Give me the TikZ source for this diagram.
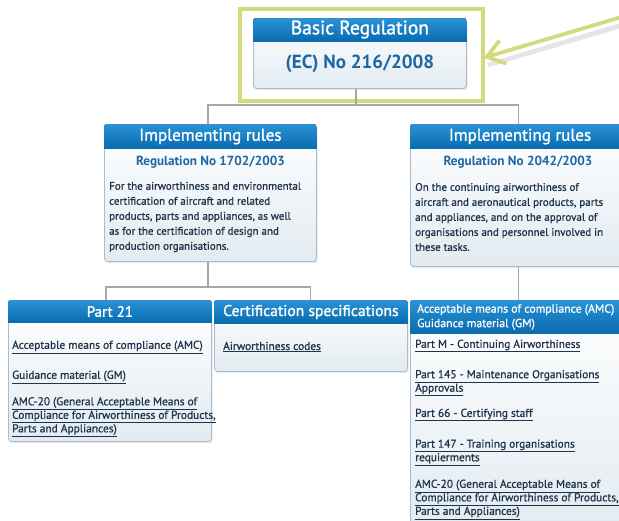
\documentclass[tikz,border=0pt]{standalone}
\usepackage{fontspec}
\setmainfont{PT Sans}
\newfontfamily\medf[FakeBold=1.0]{PT Sans}
\newfontfamily\semif[FakeBold=1.3]{PT Sans}
\usetikzlibrary{arrows.meta,shadows,calc}
\definecolor{hblue}{HTML}{2A93D6}
\definecolor{hblue2}{HTML}{0A6BB0}
\definecolor{bborder}{HTML}{A9BCCB}
\definecolor{bbot}{HTML}{E2EBF1}
\definecolor{subblue}{HTML}{1F66A3}
\definecolor{txt}{HTML}{1F344B}
\definecolor{hlgreen}{HTML}{D2DA7C}
\definecolor{connc}{HTML}{A6A6A6}
\newcommand\mkheader[2]{%
  \begin{scope}
    \clip[rounded corners=3pt] (#1.north west) rectangle (#1.south east);
    \fill[top color=hblue, bottom color=hblue2] (#1.north west) rectangle ([yshift=-#2]#1.north east);
  \end{scope}}
\newcommand\lnk[1]{\underline{#1}}
\begin{document}
\begin{tikzpicture}[x=1pt,y=-1pt,
  box/.style={draw=bborder, line width=0.8pt, rounded corners=3pt, top color=white,
    bottom color=bbot, anchor=north west, inner sep=0pt,
    drop shadow={opacity=0.18, shadow xshift=1.2pt, shadow yshift=-1.8pt}},
  htitle/.style={text=white, inner sep=0pt, font=\semif\fontsize{17}{19}\selectfont},
  hsmall/.style={text=white, inner sep=0pt, font=\semif\fontsize{15}{17}\selectfont},
  hlist/.style={text=white, inner sep=0pt, anchor=west, align=left, font=\medf\fontsize{11.8}{14.5}\selectfont},
  subt/.style={text=subblue, inner sep=0pt, font=\bfseries\fontsize{13.2}{15}\selectfont},
  body/.style={text=txt, inner sep=0pt, anchor=west, align=left, font=\medf\fontsize{11}{15}\selectfont},
  item/.style={text=txt, inner sep=0pt, anchor=west, align=left, font=\medf\fontsize{11.4}{13.5}\selectfont},
  conn/.style={draw=connc, line width=1.3pt},
  hl/.style={draw=hlgreen, line width=3.6pt, inner sep=0pt, anchor=north west},
  hlarrow/.style={draw=hlgreen, line width=3.8pt, -{Straight Barb[length=17pt, width=24pt, line width=3.6pt]}}]
\useasboundingbox (0,0) rectangle (619,520);
\clip (0,0) rectangle (619,520);
\fill[white] (0,0) rectangle (619,520);

% ---------- Basic regulation ----------
\node[hl, minimum width=243pt, minimum height=92pt] (hl) at (238,7) {};
\node[box, minimum width=213pt, minimum height=70pt] (br) at (253,18) {};
\mkheader{br}{23pt}
\node[htitle, font=\semif\fontsize{19.5}{21}\selectfont] (brt) at ($(br.north)+(0,11.5)$) {Basic Regulation};
\node[subt, font=\bfseries\fontsize{19}{21}\selectfont] (brs) at ($(br.north)+(0,46)$) {(EC) No 216/2008};

\coordinate (atail) at (625,16);
\fill[black, opacity=0.10] (624,22) -- (487,63) -- (489,67) -- (625,27) -- cycle;
\draw[hlarrow] (atail) -- ([xshift=-1pt,yshift=-3pt]hl.east);

% ---------- Implementing rules 1 ----------
\node[box, minimum width=212pt, minimum height=137pt] (ir1) at (104,124) {};
\mkheader{ir1}{24pt}
\node[htitle] (ir1t) at ($(ir1.north)+(0,12.5)$) {Implementing rules};
\node[subt] (ir1s) at ($(ir1.north)+(0,38)$) {Regulation No 1702/2003};
\node[body] (ir1b) at (109,217) {For the airworthiness and environmental\\certification of aircraft and related\\products, parts and appliances, as well\\as for the certification of design and\\production organisations.};

% ---------- Implementing rules 2 ----------
\node[box, minimum width=220pt, minimum height=142pt] (ir2) at (410,124) {};
\mkheader{ir2}{24pt}
\node[htitle] (ir2t) at (520,136.5) {Implementing rules};
\node[subt] (ir2s) at (518,162) {Regulation No 2042/2003};
\node[body] (ir2b) at (415,217) {On the continuing airworthiness of\\aircraft and aeronautical products, parts\\and appliances, and on the approval of\\organisations and personnel involved in\\these tasks.};

% ---------- Part 21 ----------
\node[box, minimum width=203pt, minimum height=141pt] (p21) at (8,300) {};
\mkheader{p21}{22pt}
\node[hsmall] (p21t) at ($(p21.north)+(0,11.5)$) {Part 21};
\node[item] (p21a) at (12,347) {\lnk{Acceptable means of compliance (AMC)}};
\node[item] (p21b) at (12,377) {\lnk{Guidance material (GM)}};
\node[item] (p21c) at (12,417) {\lnk{AMC-20 (General Acceptable Means of}\\\lnk{Compliance for Airworthiness of Products,}\\\lnk{Parts and Appliances)}};

% ---------- Certification specifications ----------
\node[box, minimum width=193pt, minimum height=71pt] (cs) at (214,300) {};
\mkheader{cs}{23pt}
\node[hsmall, font=\semif\fontsize{15.6}{17}\selectfont] (cst) at ($(cs.north)+(0,12)$) {Certification specifications};
\node[item] (csa) at (223,347) {\lnk{Airworthiness codes}};

% ---------- AMC / GM ----------
\node[box, minimum width=220pt, minimum height=230pt] (amc) at (410,300) {};
\mkheader{amc}{33pt}
\node[hlist] (amct) at (417,317) {Acceptable means of compliance (AMC)\\Guidance material (GM)};
\node[item] (amca) at (415,346) {\lnk{Part M - Continuing Airworthiness}};
\node[item] (amcb) at (415,383) {\lnk{Part 145 - Maintenance Organisations}\\\lnk{Approvals}};
\node[item] (amcc) at (415,415) {\lnk{Part 66 - Certifying staff}};
\node[item] (amcd) at (415,452.5) {\lnk{Part 147 - Training organisations}\\\lnk{requierments}};
\node[item] (amce) at (415,499.5) {\lnk{AMC-20 (General Acceptable Means of}\\\lnk{Compliance for Airworthiness of Products,}\\\lnk{Parts and Appliances)}};

% ---------- connectors ----------
\coordinate (j1) at (356,105);
\coordinate (j2) at (208,287);
\draw[conn] (br.south -| j1) -- (j1);
\draw[conn] (j1) -| (ir1.north -| j2);
\draw[conn] (j1) -| ([xshift=-2pt]ir2.north);
\draw[conn] (ir1.south -| j2) -- (j2);
\draw[conn] (j2) -| ([xshift=-4pt]p21.north);
\draw[conn] (j2) -| ([xshift=-0.5pt]cs.north);
\draw[conn] ([xshift=-2pt]ir2.south) -- ([xshift=-2pt]amc.north);
\end{tikzpicture}
\end{document}
